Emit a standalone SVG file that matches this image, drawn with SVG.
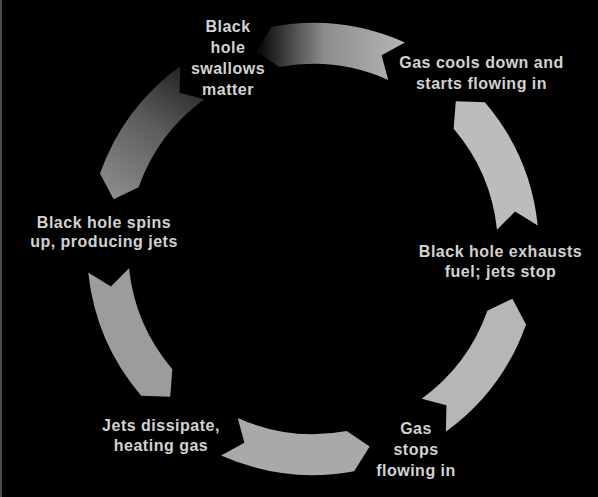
<svg xmlns="http://www.w3.org/2000/svg" width="598" height="497" viewBox="0 0 598 497">
  <style>
    .lbl { font-family: "Liberation Sans", Arial, sans-serif; font-weight: bold; font-size: 16px; letter-spacing: 0.5px; fill: #d2d2d2; text-anchor: middle; }
    .arr { stroke: none; }
  </style>
  <defs>
    <linearGradient id="gTop" gradientUnits="userSpaceOnUse" x1="262" y1="0" x2="400" y2="0">
      <stop offset="0" stop-color="#0e0e0e"/>
      <stop offset="0.12" stop-color="#303030"/>
      <stop offset="0.45" stop-color="#8c8c8c"/>
      <stop offset="1" stop-color="#b4b4b4"/>
    </linearGradient>
    <linearGradient id="gTopLeft" gradientUnits="userSpaceOnUse" x1="190" y1="70" x2="110" y2="195">
      <stop offset="0" stop-color="#222222"/>
      <stop offset="0.45" stop-color="#5c5c5c"/>
      <stop offset="1" stop-color="#8c8c8c"/>
    </linearGradient>
  </defs>
  <rect x="0" y="0" width="598" height="497" fill="#000000"/>
  <rect x="0" y="0" width="2" height="497" fill="#4a4a4a"/>

  <g id="connectors">
    <path class="arr" fill="#bcbcbc" d="M484.85,102.22 A226,226 0 0 1 537.76,225.38 L515.06,211.55 L496.99,229.66 A185,185 0 0 0 453.68,128.85 L455.75,101.18 Z"/>
    <path class="arr" fill="#b6b6b6" d="M526.04,324.44 A226,226 0 0 1 445.84,431.84 L446.46,405.26 L421.74,398.67 A185,185 0 0 0 487.39,310.75 L512.40,298.71 Z"/>
    <path class="arr" fill="#a9a9a9" d="M354.19,471.21 A226,226 0 0 1 221.08,455.46 L244.40,442.71 L237.75,418.01 A185,185 0 0 0 346.71,430.90 L369.64,446.54 Z"/>
    <path class="arr" fill="#9c9c9c" d="M141.15,395.78 A226,226 0 0 1 88.24,272.62 L110.94,286.45 L129.01,268.34 A185,185 0 0 0 172.32,369.15 L170.25,396.82 Z"/>
    <path class="arr" fill="url(#gTopLeft)" d="M99.96,173.56 A226,226 0 0 1 180.16,66.16 L179.54,92.74 L204.26,99.33 A185,185 0 0 0 138.61,187.25 L113.60,199.29 Z"/>
    <path class="arr" fill="url(#gTop)" d="M271.81,26.79 A226,226 0 0 1 404.92,42.54 L381.60,55.29 L388.25,79.99 A185,185 0 0 0 279.29,67.10 L256.36,51.46 Z"/>
  </g>

  <g id="swallows">
    <text class="lbl" x="228" y="32">Black</text>
    <text class="lbl" x="228" y="53">hole</text>
    <text class="lbl" x="228" y="74">swallows</text>
    <text class="lbl" x="228" y="95">matter</text>
  </g>
  <g id="cools">
    <text class="lbl" x="481.5" y="68">Gas cools down and</text>
    <text class="lbl" x="481.5" y="89">starts flowing in</text>
  </g>
  <g id="exhausts">
    <text class="lbl" x="500.5" y="257">Black hole exhausts</text>
    <text class="lbl" x="500.5" y="277">fuel; jets stop</text>
  </g>
  <g id="stops">
    <text class="lbl" x="416" y="434">Gas</text>
    <text class="lbl" x="416" y="455">stops</text>
    <text class="lbl" x="416" y="476">flowing in</text>
  </g>
  <g id="dissipate">
    <text class="lbl" x="161" y="431">Jets dissipate,</text>
    <text class="lbl" x="161" y="451">heating gas</text>
  </g>
  <g id="spins">
    <text class="lbl" x="104" y="228">Black hole spins</text>
    <text class="lbl" x="104" y="247">up, producing jets</text>
  </g>
</svg>
